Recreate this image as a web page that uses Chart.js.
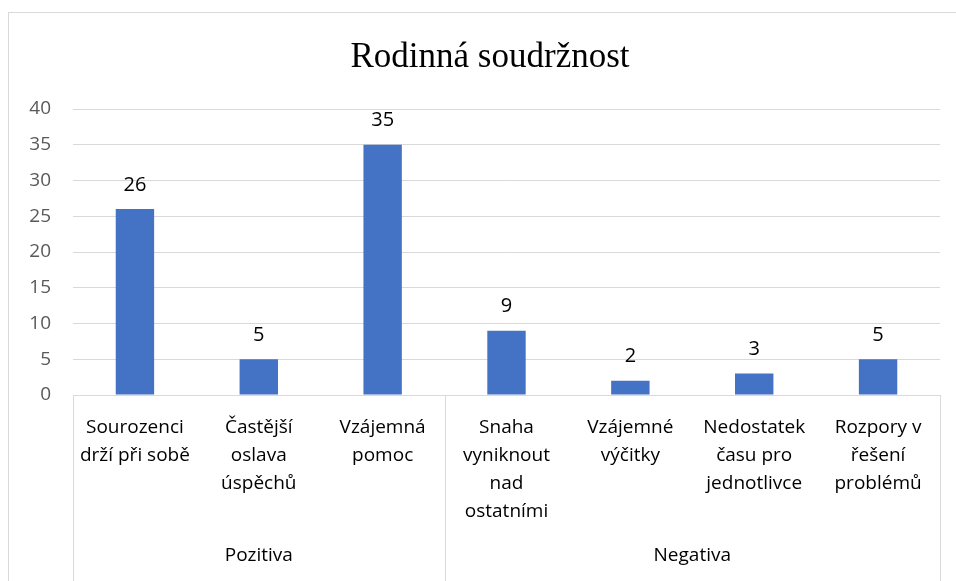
<!DOCTYPE html>
<html>
<head>
<meta charset="utf-8">
<script src="https://cdn.jsdelivr.net/npm/chart.js@4"></script>
<style>
  html, body { margin: 0; padding: 0; background: #fff; }
  #wrap { width: 956px; height: 581px; position: relative; }
</style>
</head>
<body>
<div id="wrap"><canvas id="chart"></canvas></div>
<script>
const TITLE = "Rodinná soudržnost"

const categories = [
  ["Sourozenci", "drží při sobě"],
  ["Častější", "oslava", "úspěchů"],
  ["Vzájemná", "pomoc"],
  ["Snaha", "vyniknout", "nad", "ostatními"],
  ["Vzájemné", "výčitky"],
  ["Nedostatek", "času pro", "jednotlivce"],
  ["Rozpory v", "řešení", "problémů"]
]
const values = [26, 5, 35, 9, 2, 3, 5]

const groups = ["Pozitiva", "Negativa"]
const groupSizes = [3, 4]

const Y_MAX = 40
const Y_STEP = 5

const BAR_COLOR = "#4472C4"
const GRID_COLOR = "#d9d9d9"
const FONT = "'Open Sans', Lato, sans-serif"
const TITLE_FONT = "35px 'Liberation Serif', 'DejaVu Serif', serif"

// frame, title, data labels, group labels and the category separators
const extras = {
  id: "extras",
  beforeDraw(chart) {
    const { ctx } = chart
    ctx.save()
    ctx.strokeStyle = GRID_COLOR
    ctx.lineWidth = 1
    ctx.strokeRect(8.5, 12.5, 1000, 700)

    // the frame runs past the right edge, so the title sits right of the canvas middle
    ctx.font = TITLE_FONT
    ctx.fillStyle = "#000"
    ctx.textAlign = "center"
    ctx.textBaseline = "alphabetic"
    ctx.fillText(TITLE, 490, 67)
    ctx.restore()
  },
  afterDraw(chart) {
    const { ctx, chartArea } = chart
    const meta = chart.getDatasetMeta(0)
    ctx.save()

    ctx.font = "20px " + FONT
    ctx.fillStyle = "#000"
    ctx.textAlign = "center"
    ctx.textBaseline = "middle"
    meta.data.forEach((bar, i) => {
      ctx.fillText(String(values[i]), bar.x, bar.y - 24)
    })

    // separators between the groups
    ctx.strokeStyle = GRID_COLOR
    ctx.lineWidth = 1
    const step = (chartArea.right - chartArea.left) / categories.length
    let start = 0
    const edges = [chartArea.left]
    groupSizes.forEach((n) => {
      start += n
      edges.push(chartArea.left + step * start)
    })
    edges.forEach((ex) => {
      const px = Math.round(ex) + 0.5
      ctx.beginPath()
      ctx.moveTo(px, chartArea.bottom)
      ctx.lineTo(px, chart.height)
      ctx.stroke()
    })

    ctx.font = "19px " + FONT
    groups.forEach((g, i) => {
      const cx = (edges[i] + edges[i + 1]) / 2
      ctx.fillText(g, cx, 556)
    })
    ctx.restore()
  }
}

new Chart(document.getElementById("chart"), {
  type: "bar",
  data: {
    labels: categories,
    datasets: [{
      data: values,
      backgroundColor: BAR_COLOR,
      categoryPercentage: 1,
      barPercentage: 0.31
    }]
  },
  options: {
    responsive: true,
    maintainAspectRatio: false,
    animation: false,
    layout: { padding: { left: 0, right: 16, top: 109, bottom: 0 } },
    plugins: {
      legend: { display: false },
      tooltip: { enabled: false },
      title: { display: false }
    },
    scales: {
      x: {
        grid: { display: false },
        border: { display: false },
        ticks: {
          color: "#000",
          font: { family: FONT, size: 19, lineHeight: 1.47 },
          maxRotation: 0,
          autoSkip: false,
          padding: 11
        },
        afterFit: (scale) => { scale.height = 186 }
      },
      y: {
        min: 0,
        max: Y_MAX,
        grid: { color: GRID_COLOR, drawTicks: false },
        border: { display: false },
        ticks: {
          stepSize: Y_STEP,
          color: "#595959",
          font: { family: FONT, size: 19 },
          padding: 22
        },
        afterFit: (scale) => { scale.width = 73 }
      }
    }
  },
  plugins: [extras]
})
</script>
</body>
</html>
